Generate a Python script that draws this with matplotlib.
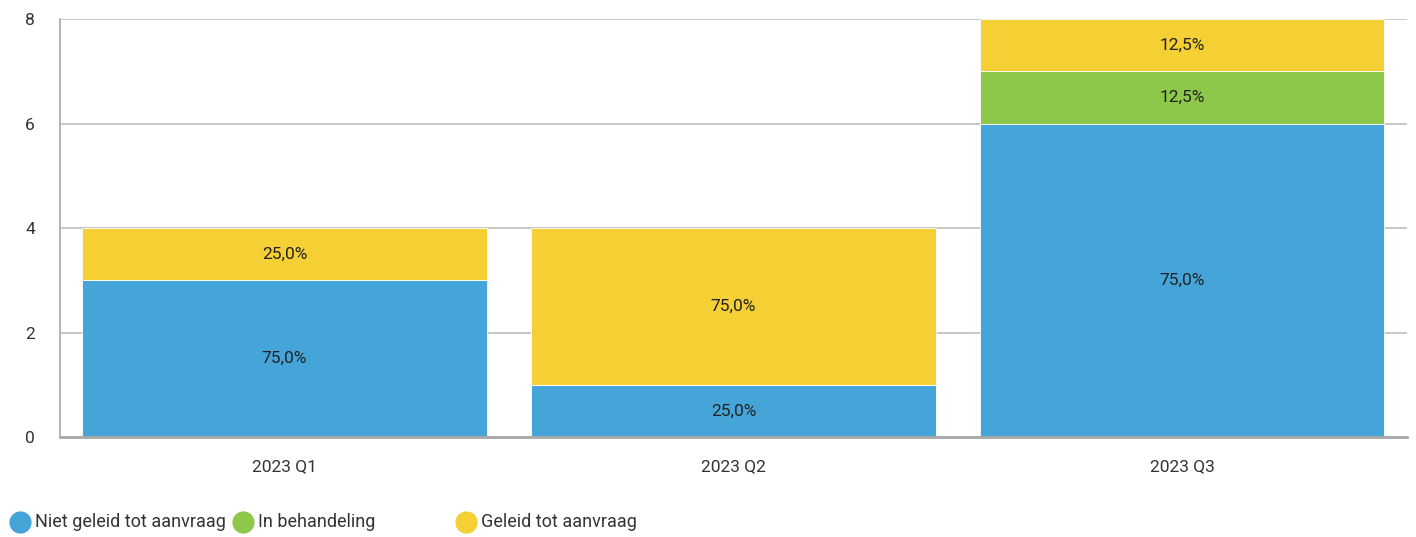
import numpy as np
import matplotlib.pyplot as plt
from matplotlib.lines import Line2D

plt.rcParams['font.family'] = ['Roboto', 'DejaVu Sans']

quarters = ['2023 Q1', '2023 Q2', '2023 Q3']
series = ['Niet geleid tot aanvraag', 'In behandeling', 'Geleid tot aanvraag']
niet_geleid = [3, 1, 6]
in_behandeling = [0, 0, 1]
geleid = [1, 3, 1]
colors = ['#45a5d8', '#8dc84b', '#f4d034']

fig = plt.figure(figsize=(14.16, 5.37), dpi=100)
ax = fig.add_axes([0.0424, 0.1862, 0.9512, 0.7784])

x = np.arange(len(quarters))
values = [niet_geleid, in_behandeling, geleid]
totals = np.sum(values, axis=0)
bottom = np.zeros(len(quarters))
for vals, col in zip(values, colors):
    vals = np.array(vals, dtype=float)
    ax.bar(x, vals, 0.9, bottom=bottom, color=col, edgecolor='white', linewidth=0.6, zorder=2)
    for i, v in enumerate(vals):
        if v > 0:
            pct = v / totals[i] * 100
            ax.text(x[i], bottom[i] + v / 2, f'{pct:.1f}%'.replace('.', ','),
                    ha='center', va='center', fontsize=12.5, color='#222222', zorder=3)
    bottom += vals

ax.set_xlim(-0.5, 2.5)
ax.set_ylim(0, 8)
ax.set_yticks([0, 2, 4, 6, 8])
ax.set_xticks(x)
ax.set_xticklabels(quarters)
ax.tick_params(length=0, labelsize=12.5, colors='#333333')
ax.tick_params(axis='y', pad=18)
ax.tick_params(axis='x', pad=16)
ax.yaxis.grid(True, color='#bdbdbd', linewidth=1.2, zorder=1)
ax.set_axisbelow(True)
for s in ['top', 'right']:
    ax.spines[s].set_visible(False)
ax.spines['left'].set_color('#a8a8a8')
ax.spines['left'].set_linewidth(1.2)
ax.spines['bottom'].set_color('#a8a8a8')
ax.spines['bottom'].set_linewidth(2)

# legend
leg_x = [0.0141, 0.1716, 0.3291]
for lx, name, col in zip(leg_x, series, colors):
    fig.add_artist(Line2D([lx], [0.028], marker='o', markersize=15, color=col,
                          linestyle='none', transform=fig.transFigure))
    fig.text(lx + 0.0105, 0.028, name, ha='left', va='center', fontsize=13, color='#333333')

fig.savefig('out.png', dpi=100)
